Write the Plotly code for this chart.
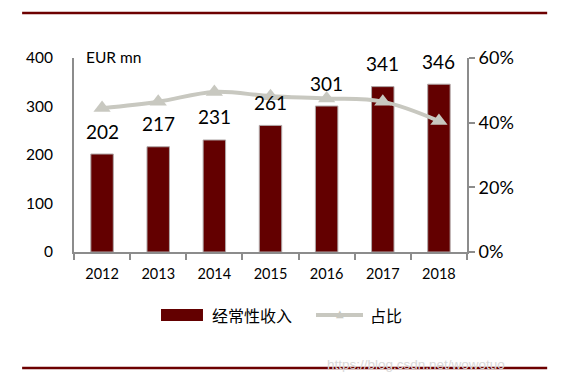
import plotly.graph_objects as go

years = ["2012", "2013", "2014", "2015", "2016", "2017", "2018"]
revenue = [202, 217, 231, 261, 301, 341, 346]
share = [0.445, 0.465, 0.495, 0.482, 0.475, 0.465, 0.405]
bar_name = "经常性收入"
line_name = "占比"

BAR = "#630000"
LINE = "#c8c8c0"
AX = "#8c8c8c"
FONT = "Lato, 'Noto Sans', 'Noto Sans CJK SC', sans-serif"
CJK = "'Noto Sans CJK SC', sans-serif"

fig = go.Figure()
fig.add_trace(go.Bar(x=years, y=revenue, name=bar_name, width=0.4, showlegend=False,
                     marker=dict(color=BAR, line=dict(color="#b0a8a8", width=1))))
fig.add_trace(go.Scatter(x=years, y=share, name=line_name, yaxis="y2", showlegend=False,
                         mode="lines+markers",
                         line=dict(color=LINE, width=4, shape="spline"),
                         marker=dict(symbol="triangle-up", size=15, color=LINE)))

for i, v in enumerate(revenue):
    fig.add_annotation(x=i, y=v, text=str(v), showarrow=False, yshift=23,
                       font=dict(size=19, color="#000000", family=FONT))

fig.add_annotation(xref="paper", yref="paper", x=0.025, y=1.005, text="EUR mn",
                   showarrow=False, xanchor="left", yanchor="middle",
                   font=dict(size=15.5, color="#000", family=FONT))
fig.add_annotation(xref="paper", yref="paper", x=0.639, y=-0.582,
                   text="https://blog.csdn.net/wowotuo", showarrow=False,
                   xanchor="left", yanchor="middle",
                   font=dict(size=13.5, color="#d8d8d8", family="Liberation Sans"))

# custom legend
fig.add_shape(type="rect", xref="paper", yref="paper", x0=0.2214, x1=0.3282,
              y0=-0.3557, y1=-0.2938, fillcolor=BAR, line=dict(width=0))
fig.add_annotation(xref="paper", yref="paper", x=0.346, y=-0.325, text=bar_name,
                   showarrow=False, xanchor="left", yanchor="middle",
                   font=dict(size=16, color="#000", family=CJK))
fig.add_shape(type="line", xref="paper", yref="paper", x0=0.6158, x1=0.7354,
              y0=-0.325, y1=-0.325, line=dict(color=LINE, width=4))
fig.add_annotation(xref="paper", yref="paper", x=0.677, y=-0.318, text="▲",
                   showarrow=False, xanchor="center", yanchor="middle",
                   font=dict(size=10, color=LINE, family="DejaVu Sans"))
fig.add_annotation(xref="paper", yref="paper", x=0.748, y=-0.325, text=line_name,
                   showarrow=False, xanchor="left", yanchor="middle",
                   font=dict(size=16, color="#000", family=CJK))

fig.add_shape(type="line", xref="paper", yref="paper", x0=-0.132, x1=1.204,
              y0=1.232, y1=1.232, line=dict(color="#6d0000", width=2.5))
fig.add_shape(type="line", xref="paper", yref="paper", x0=-0.132, x1=1.204,
              y0=-0.598, y1=-0.598, line=dict(color="#6d0000", width=2.5))

fig.update_layout(
    width=576, height=384,
    margin=dict(l=66, r=117, t=50, b=140),
    paper_bgcolor="white", plot_bgcolor="white",
    font=dict(family=FONT, color="#000"),
    showlegend=False,
    xaxis=dict(type="category", range=[-0.5, 6.5], showline=True, linecolor=AX, linewidth=2,
               ticks="outside", tickson="boundaries", ticklen=6, tickcolor=AX,
               tickwidth=2, tickfont=dict(size=14.5), showgrid=False, tickangle=0,
               ticklabelstandoff=8),
    yaxis=dict(range=[0, 400], dtick=100, showline=True, linecolor=AX, linewidth=2,
               showgrid=False, zeroline=False, ticks="", tickfont=dict(size=15.5),
               ticklabelstandoff=16),
    yaxis2=dict(range=[0, 0.6], dtick=0.2, tickformat=".0%", overlaying="y",
                side="right", showline=True, linecolor=AX, linewidth=2,
                ticks="outside", ticklen=6, tickcolor=AX, tickwidth=2,
                showgrid=False, zeroline=False, tickfont=dict(size=18)),
    bargap=0.6,
)

fig.write_html("out.html")
